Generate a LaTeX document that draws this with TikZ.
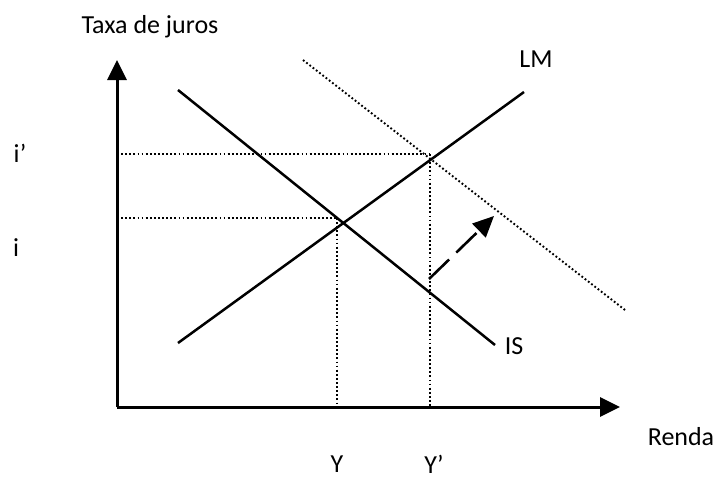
\documentclass[tikz,border=0pt]{standalone}
\usepackage{fontspec}
\setmainfont{Carlito}
\usetikzlibrary{arrows.meta}
\begin{document}
\begin{tikzpicture}[x=1pt,y=-1pt,
  axis/.style={line width=3pt,-{Triangle[length=20pt,width=19pt]}},
  curve/.style={line width=2.5pt},
  guide/.style={line width=1.9pt,dash pattern=on 1.8pt off 2.3pt},
  shiftarrow/.style={line width=2.6pt,dash pattern=on 28pt off 10pt,-{Triangle[length=21pt,width=19pt]}},
  lbl/.style={font=\fontsize{26}{30}\selectfont,inner sep=0pt}]
\useasboundingbox (0,0) rectangle (717,479);
% axes
\coordinate (O) at (117,407);
\coordinate (Ytip) at (117,60);
\coordinate (Xtip) at (620,407);
\draw[axis] (O) -- (Ytip);
\draw[axis] (O) -- (Xtip);
% curves
\coordinate (IS1) at (178,90);
\coordinate (IS2) at (495,345);
\coordinate (LM1) at (178,343);
\coordinate (LM2) at (524,92);
\coordinate (ISp1) at (303,60);
\coordinate (ISp2) at (625,310);
\draw[curve] (IS1) -- (IS2);
\draw[curve] (LM1) -- (LM2);
\draw[guide] (ISp1) -- (ISp2);
% equilibria
\coordinate (E) at (337,218);
\coordinate (Ep) at (430,154);
\coordinate (Ei) at (117,218);
\coordinate (Eip) at (117,154);
\coordinate (EY) at (337,407);
\coordinate (EYp) at (430,407);
\draw[guide] (Ei) -- (E);
\draw[guide] (Eip) -- (Ep);
\draw[guide] (E) -- (EY);
\draw[guide] (Ep) -- (EYp);
% shift arrow
\coordinate (A1) at (429,279);
\coordinate (A2) at (494,216);
\draw[shiftarrow] (A1) -- (A2);
% labels
\node[lbl] (ty) at (150,27) {Taxa de juros};
\node[lbl] (ren) at (681,437) {Renda};
\node[lbl] (lm) at (536,59) {LM};
\node[lbl] (is) at (514,346) {IS};
\node[lbl] (ip) at (20,153) {i’};
\node[lbl] (i) at (16,248) {i};
\node[lbl] (y) at (337,464) {Y};
\node[lbl] (yp) at (434,464) {Y’};
\end{tikzpicture}
\end{document}
